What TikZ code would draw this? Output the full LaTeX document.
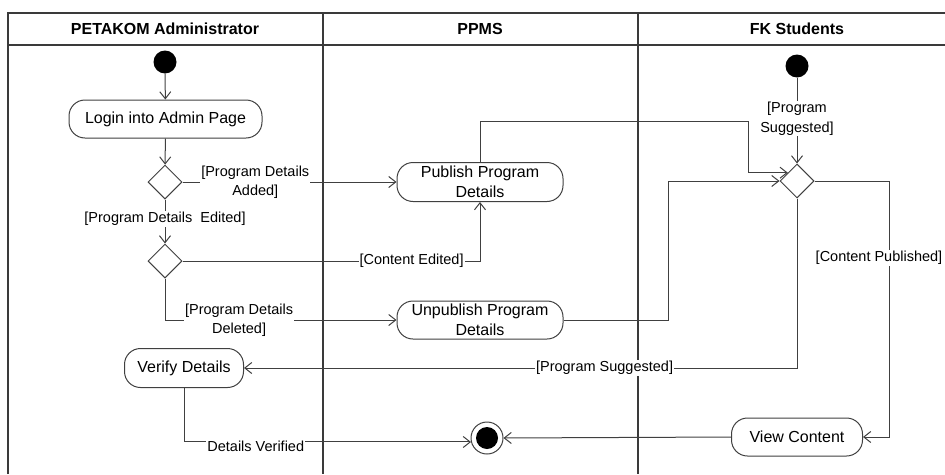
\documentclass[tikz,border=0pt]{standalone}
\usepackage{fontspec}
\setmainfont{Liberation Sans}
\usetikzlibrary{arrows.meta,shapes.geometric,calc}
\definecolor{ln}{HTML}{404040}
\definecolor{lanec}{HTML}{3A3A3A}
\begin{document}
\begin{tikzpicture}[x=1pt,y=-1pt,
  lane/.style={draw=lanec, line width=1.6pt},
  hdr/.style={font=\bfseries\fontsize{16}{18}\selectfont, inner sep=0pt},
  act/.style={draw=ln, line width=1pt, rounded corners=16pt, fill=white, align=center, inner sep=0pt, font=\fontsize{16}{20}\selectfont},
  dec/.style={diamond, draw=ln, line width=1pt, fill=white, minimum width=34pt, minimum height=34pt, inner sep=0pt},
  initnode/.style={circle, fill=black, minimum size=23pt, inner sep=0pt},
  finnode/.style={circle, draw=ln, line width=1pt, fill=white, minimum size=32pt, inner sep=0pt},
  arr/.style={draw=ln, line width=1pt, -{Straight Barb[length=7pt,width=11pt]}},
  lbl/.style={fill=white, inner sep=1pt, align=center, font=\fontsize{14.5}{19.5}\selectfont}
]
\useasboundingbox (0,0) rectangle (945,474);
% swimlanes
\draw[lane] (8,474) -- (8,13) -- (945,13);
\draw[lane] (8,45) -- (945,45);
\draw[lane] (323,13) -- (323,474);
\draw[lane] (638,13) -- (638,474);
\node[hdr] (h1) at (165,29) {PETAKOM Administrator};
\node[hdr] (h2) at (480,29) {PPMS};
\node[hdr] (h3) at (797,29) {FK Students};
% nodes
\node[initnode] (s1) at (165,62) {};
\node[act, minimum width=193pt, minimum height=38pt] (login) at (165.5,119) {Login into Admin Page};
\node[dec] (d1) at (165,182) {};
\node[dec] (d2) at (165,261) {};
\node[act, minimum width=166pt, minimum height=39pt] (pub) at (480,182) {Publish Program\\Details};
\node[act, minimum width=166pt, minimum height=38pt] (unpub) at (480,320) {Unpublish Program\\Details};
\node[act, minimum width=119pt, minimum height=39pt] (ver) at (184,368) {Verify Details};
\node[initnode] (s3) at (797,66) {};
\node[dec] (d3) at (797,181) {};
\node[act, minimum width=131pt, minimum height=38pt] (view) at (797,437) {View Content};
\node[finnode] (fin) at (487,438) {};
\node[initnode, minimum size=22pt] (fininner) at (fin) {};
\coordinate (c1) at (748,121);
\coordinate (c2) at (668,181);
\coordinate (c3) at (889,437);
% connectors
\draw[arr] (s1) -- (login);
\draw[arr] (login) -- (d1);
\draw[arr] (d1) -- node[lbl, pos=0.44]{[Program Details~ Edited]} (d2);
\draw[arr] (d1) -- node[lbl, pos=0.34]{[Program Details\\Added]} (pub);
\draw[arr] (d2.east) -| node[lbl, pos=0.385]{[Content Edited]} (pub.south);
\draw[arr] (d2.south) |- node[lbl, pos=0.66]{[Program Details\\Deleted]} (unpub.west);
\draw[arr] (pub.north) |- (c1) |- (d3.138);
\draw[arr] (unpub.east) -| (c2) -- (d3.west);
\draw[arr] (s3) -- node[lbl, pos=0.48]{[Program\\Suggested]} (d3);
\draw[arr] (d3.east) -| (c3) -- (view.east);
\node[lbl] (cp) at (879,258) {[Content Published]};
\draw[arr] (d3.south) |- node[lbl, pos=0.674]{[Program Suggested]} (ver.east);
\draw[arr] (ver.south) |- node[lbl, pos=0.625, yshift=-4pt]{Details Verified} (fin.194);
\draw[arr] (view.west) -- (fin.east);
\end{tikzpicture}
\end{document}
